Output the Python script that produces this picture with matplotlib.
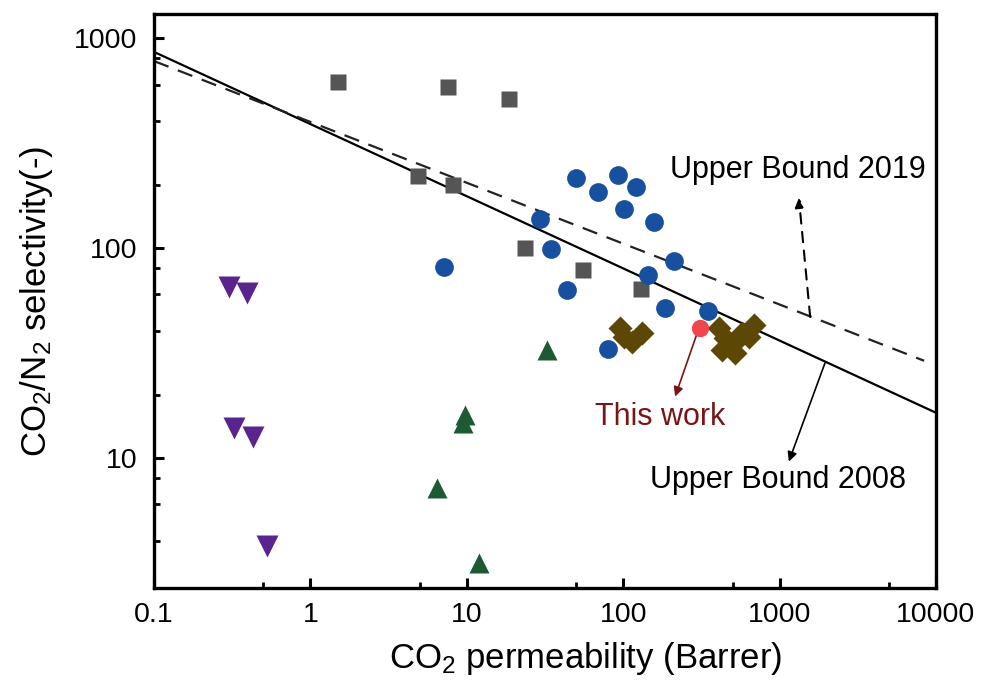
import matplotlib
matplotlib.use("Agg")
import matplotlib.pyplot as plt
import numpy as np

plt.rcParams['font.family'] = ['Liberation Sans', 'DejaVu Sans']
plt.rcParams['mathtext.fontset'] = 'custom'
plt.rcParams['mathtext.rm'] = 'Liberation Sans'
plt.rcParams['mathtext.it'] = 'Liberation Sans:italic'

# ---- data ----
sq_x = [1.50, 7.6, 18.5, 4.86, 8.22, 23.5, 55.0, 129.4]
sq_y = [617, 585, 513, 221, 199.5, 99.7, 78.5, 63.8]

circ_x = [49.7, 68.7, 93.1, 120, 101.8, 158.5, 29.3, 34.4, 7.1, 43.4, 210, 145, 185, 347, 79.6]
circ_y = [214.6, 185, 223, 194.5, 153.5, 133, 137, 98.6, 81.3, 62.7, 87, 74.3, 51.5, 49.8, 33.0]

tri_up_x = [32.4, 9.7, 9.47, 6.47, 11.9]
tri_up_y = [32.7, 16.0, 14.6, 7.18, 3.15]

tri_dn_x = [0.302, 0.392, 0.325, 0.427, 0.526]
tri_dn_y = [65.2, 61.1, 13.8, 12.6, 3.79]

dia_x = [95, 131.5, 113.3, 100.7, 407, 447, 428, 508, 576, 684, 635, 519]
dia_y = [41.6, 39.4, 35.7, 37.7, 41.6, 37.3, 32.7, 35.3, 39.4, 43.0, 37.8, 31.6]

this_x = [307.6]
this_y = [41.5]

ub2008_x = [0.1, 10000]
ub2008_y = [858, 16.4]
ub2019_x = [0.1, 8400]
ub2019_y = [776, 29.0]

xticks = [0.1, 1, 10, 100, 1000, 10000]
xticklabels = ['0.1', '1', '10', '100', '1000', '10000']
yticks = [10, 100, 1000]
yticklabels = ['10', '100', '1000']

# ---- figure ----
fig = plt.figure(figsize=(9.82, 6.87), dpi=100)
ax = fig.add_axes([154/982, 1-588/687, (936-154)/982, (588-14)/687])
ax.set_xscale('log')
ax.set_yscale('log')

ax.plot(ub2008_x, ub2008_y, color='black', lw=1.6, zorder=2)
ax.plot(ub2019_x, ub2019_y, color='#222222', lw=1.6, ls=(0, (7, 4.5)), zorder=2)

ax.plot(sq_x, sq_y, 's', color='#555555', ms=12, mec='none', zorder=3)
ax.plot(circ_x, circ_y, 'o', color='#17509e', ms=13.5, mec='none', zorder=3)
ax.plot(tri_up_x, tri_up_y, '^', color='#1d5a34', ms=15, mec='none', zorder=3)
ax.plot(tri_dn_x, tri_dn_y, 'v', color='#5a248e', ms=15.5, mec='none', zorder=3)
ax.plot(dia_x, dia_y, 'D', color='#5c4804', ms=12.5, mec='none', zorder=4)
ax.plot(this_x, this_y, 'o', color='#f0474f', ms=12.5, mec='none', zorder=5)

ax.set_xlim(0.1, 10000)
ax.set_ylim(2.4, 1300)

ax.set_xticks(xticks)
ax.set_xticklabels(xticklabels)
ax.set_yticks(yticks)
ax.set_yticklabels(yticklabels)
ax.xaxis.set_minor_locator(matplotlib.ticker.LogLocator(base=10, subs=[5]))
ax.yaxis.set_minor_locator(matplotlib.ticker.LogLocator(base=10, subs=[2, 4, 6, 8]))
ax.xaxis.set_minor_formatter(matplotlib.ticker.NullFormatter())
ax.yaxis.set_minor_formatter(matplotlib.ticker.NullFormatter())

ax.tick_params(which='major', direction='in', length=7, width=2.2, labelsize=20.5)
ax.tick_params(which='minor', direction='in', length=4, width=2.0)
ax.tick_params(axis='x', which='major', pad=10)
ax.tick_params(axis='y', which='major', pad=12)
for s in ax.spines.values():
    s.set_linewidth(2.4)

ax.set_xlabel('CO$_2$ permeability (Barrer)', fontsize=25, labelpad=9, x=0.552)
ax.set_ylabel('CO$_2$/N$_2$ selectivity(-)', fontsize=25, labelpad=14)

# annotations
ax.annotate('', xy=(10**((796.7-153.5)/156-1), 10**(3-(198-38)/210)),
            xytext=(10**((808-153.5)/156-1), 10**(3-(317-38)/210)),
            arrowprops=dict(arrowstyle='-|>', color='black', lw=1.5, ls=(0, (5, 4)),
                            mutation_scale=14, shrinkA=0, shrinkB=0))
ax.text(10**((668-153.5)/156-1), 10**(3-(170-38)/210), 'Upper Bound 2019',
        fontsize=22, ha='left', va='center', color='black')

ax.annotate('', xy=(10**((786.7-153.5)/156-1), 10**(3-(461.7-38)/210)),
            xytext=(10**((822.7-153.5)/156-1), 10**(3-(363.3-38)/210)),
            arrowprops=dict(arrowstyle='-|>', color='black', lw=1.2,
                            mutation_scale=14, shrinkA=0, shrinkB=0))
ax.text(10**((648-153.5)/156-1), 10**(3-(480-38)/210), 'Upper Bound 2008',
        fontsize=22, ha='left', va='center', color='black')

ax.annotate('', xy=(10**((673.3-153.5)/156-1), 10**(3-(396.7-38)/210)),
            xytext=(10**((695-153.5)/156-1), 10**(3-(334-38)/210)),
            arrowprops=dict(arrowstyle='-|>', color='#7a1416', lw=1.2,
                            mutation_scale=14, shrinkA=0, shrinkB=0))
ax.text(10**((593-153.5)/156-1), 10**(3-(417-38)/210), 'This work',
        fontsize=22, ha='left', va='center', color='#7a1416')

fig.savefig('out.png', dpi=100)
